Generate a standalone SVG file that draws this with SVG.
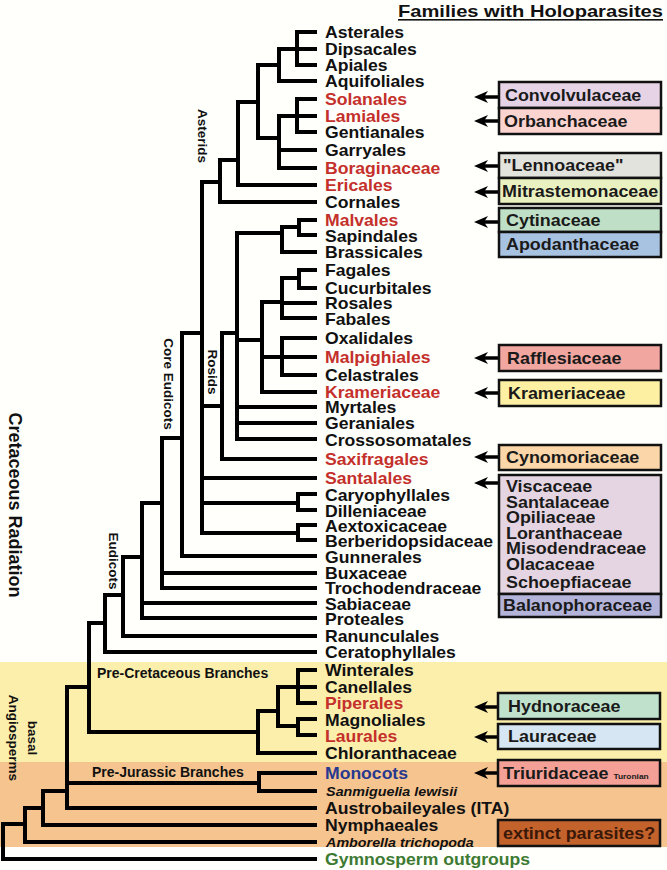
<svg xmlns="http://www.w3.org/2000/svg" width="667" height="870" viewBox="0 0 667 870">
<style>
text{font-family:"Liberation Sans",Arial,sans-serif;font-weight:bold;fill:#111}
.lf{font-size:16px}
.r{fill:#c4302b}
.it{font-style:italic;font-size:13px}
.bx{font-size:16px;fill:#1a1a1a}
.lab{font-size:13.5px}
.box{stroke:#111;stroke-width:2.5}
.tree{fill:none;stroke:#000;stroke-width:4;stroke-linecap:square}
.arw{stroke:#000;stroke-width:3.5}
</style>
<defs>
<marker id="ah" viewBox="0 0 14 12" refX="8" refY="6" markerWidth="14" markerHeight="12" markerUnits="userSpaceOnUse" orient="auto">
<path d="M0,0 L14,6 L0,12 L4,6 z" fill="#000"/>
</marker>
</defs>
<rect x="0" y="0" width="667" height="870" fill="#fffffb"/>
<rect x="0" y="662" width="667" height="100" fill="#fcefac"/>
<rect x="0" y="762" width="667" height="85" fill="#f6c48e"/>

<g id="title">
<text x="663" y="17" text-anchor="end" font-size="17" textLength="265" lengthAdjust="spacingAndGlyphs">Families with Holoparasites</text>
<rect x="398" y="19" width="265" height="1.6" fill="#111"/>
</g>

<g id="connectors">
<path class="tree" d="M297,32 V65 M297,32 H315 M297,49 H315 M297,65 H315
M279,49 V81 M279,49 H297 M279,81 H315
M297,99 V132 M297,99 H315 M297,116 H315 M297,132 H315
M279,116 V168 M279,116 H297 M279,150 H315 M279,168 H315
M258,65 V138 M258,65 H279 M258,138 H279
M238,102 V185 M238,102 H258 M238,185 H315
M220,160 V202 M220,160 H238 M220,202 H315
M202,182 V533 M202,182 H220
M299,220 V235 M299,220 H315 M299,235 H315
M282,227 V252 M282,227 H299 M282,252 H315
M299,270 V288 M299,270 H315 M299,288 H315
M282,278 V318 M282,278 H299 M282,303 H315 M282,318 H315
M282,338 V375 M282,338 H315 M282,357 H315 M282,375 H315
M262,302 V392 M262,302 H282 M262,357 H282 M262,392 H315
M237,233 V439 M237,233 H282 M237,340 H262 M237,407 H315 M237,423 H315 M237,439 H315
M222,333 V459 M222,333 H237 M222,459 H315
M202,406 H222
M202,478 H315
M202,503 H298 M298,494 V510 M298,494 H315 M298,510 H315
M202,533 H298 M298,525 V540 M298,525 H315 M298,540 H315
M182,333 V556 M182,333 H202 M182,556 H315
M162,438 V588 M162,438 H182 M162,573 H315 M162,588 H315
M142,503 V618 M142,503 H162 M142,603 H315 M142,618 H315
M123,557 V636 M123,557 H142 M123,636 H315
M105,595 V652 M105,595 H123 M105,652 H315
M89,623 V732 M89,623 H105 M89,732 H258
M298,670 V703 M298,670 H315 M298,703 H315 M278,687 H315
M298,719 V735 M298,719 H315 M298,735 H315
M278,687 V726 M278,726 H298
M258,711 V753 M258,711 H278 M258,753 H315
M259,773 V791 M259,773 H315 M259,791 H315
M67,687 V808 M67,687 H89 M67,783 H259 M67,808 H315
M43,791 V825 M43,791 H67 M43,825 H315
M25,808 V842 M25,808 H43 M25,842 H315
M3,824 V859 M3,824 H25 M3,859 H315"/>
<g class="arw" marker-end="url(#ah)">
<line x1="498" y1="97" x2="480" y2="97"/>
<line x1="498" y1="121" x2="480" y2="121"/>
<line x1="498" y1="166" x2="480" y2="166"/>
<line x1="498" y1="192" x2="480" y2="192"/>
<line x1="498" y1="222" x2="480" y2="222"/>
<line x1="498" y1="358" x2="480" y2="358"/>
<line x1="498" y1="393" x2="480" y2="393"/>
<line x1="498" y1="457" x2="480" y2="457"/>
<line x1="498" y1="483" x2="480" y2="483"/>
<line x1="498" y1="707" x2="480" y2="707"/>
<line x1="498" y1="737" x2="480" y2="737"/>
<line x1="498" y1="773" x2="480" y2="773"/>
</g>
</g>

<g id="clade-labels" class="lab">
<text transform="translate(202,136) rotate(90)" text-anchor="middle" dominant-baseline="central">Asterids</text>
<text transform="translate(212,372) rotate(90)" text-anchor="middle" dominant-baseline="central">Rosids</text>
<text transform="translate(168,384) rotate(90)" text-anchor="middle" dominant-baseline="central">Core Eudicots</text>
<text transform="translate(113,561) rotate(90)" text-anchor="middle" dominant-baseline="central">Eudicots</text>
<text transform="translate(15,505) rotate(90)" text-anchor="middle" dominant-baseline="central" font-size="18">Cretaceous Radiation</text>
<text transform="translate(32,738) rotate(90)" text-anchor="middle" dominant-baseline="central">basal</text>
<text transform="translate(13,738) rotate(90)" text-anchor="middle" dominant-baseline="central">Angiosperms</text>
<text x="97" y="678" font-size="14">Pre-Cretaceous Branches</text>
<text x="92" y="777" font-size="14">Pre-Jurassic Branches</text>
</g>

<g id="leaves" class="lf" transform="translate(325,0) scale(1.1,1)">
<g id="n-asterales"><text x="0" y="38">Asterales</text></g>
<g id="n-dipsacales"><text x="0" y="55">Dipsacales</text></g>
<g id="n-apiales"><text x="0" y="71">Apiales</text></g>
<g id="n-aquifoliales"><text x="0" y="87">Aquifoliales</text></g>
<g id="n-solanales"><text class="r" x="0" y="105">Solanales</text></g>
<g id="n-lamiales"><text class="r" x="0" y="122">Lamiales</text></g>
<g id="n-gentianales"><text x="0" y="138">Gentianales</text></g>
<g id="n-garryales"><text x="0" y="156">Garryales</text></g>
<g id="n-boraginaceae"><text class="r" x="0" y="174">Boraginaceae</text></g>
<g id="n-ericales"><text class="r" x="0" y="191">Ericales</text></g>
<g id="n-cornales"><text x="0" y="208">Cornales</text></g>
<g id="n-malvales"><text class="r" x="0" y="226">Malvales</text></g>
<g id="n-sapindales"><text x="0" y="242">Sapindales</text></g>
<g id="n-brassicales"><text x="0" y="258">Brassicales</text></g>
<g id="n-fagales"><text x="0" y="276">Fagales</text></g>
<g id="n-cucurbitales"><text x="0" y="294">Cucurbitales</text></g>
<g id="n-rosales"><text x="0" y="309">Rosales</text></g>
<g id="n-fabales"><text x="0" y="325">Fabales</text></g>
<g id="n-oxalidales"><text x="0" y="344">Oxalidales</text></g>
<g id="n-malpighiales"><text class="r" x="0" y="363">Malpighiales</text></g>
<g id="n-celastrales"><text x="0" y="381">Celastrales</text></g>
<g id="n-krameriaceae"><text class="r" x="0" y="398">Krameriaceae</text></g>
<g id="n-myrtales"><text x="0" y="413">Myrtales</text></g>
<g id="n-geraniales"><text x="0" y="429">Geraniales</text></g>
<g id="n-crossosomatales"><text x="0" y="446">Crossosomatales</text></g>
<g id="n-saxifragales"><text class="r" x="0" y="465">Saxifragales</text></g>
<g id="n-santalales"><text class="r" x="0" y="484">Santalales</text></g>
<g id="n-caryophyllales"><text x="0" y="501">Caryophyllales</text></g>
<g id="n-dilleniaceae"><text x="0" y="517">Dilleniaceae</text></g>
<g id="n-aextoxicaceae"><text x="0" y="532">Aextoxicaceae</text></g>
<g id="n-berberidopsidaceae"><text x="0" y="547">Berberidopsidaceae</text></g>
<g id="n-gunnerales"><text x="0" y="563">Gunnerales</text></g>
<g id="n-buxaceae"><text x="0" y="579">Buxaceae</text></g>
<g id="n-trochodendraceae"><text x="0" y="594">Trochodendraceae</text></g>
<g id="n-sabiaceae"><text x="0" y="610">Sabiaceae</text></g>
<g id="n-proteales"><text x="0" y="625">Proteales</text></g>
<g id="n-ranunculales"><text x="0" y="642">Ranunculales</text></g>
<g id="n-ceratophyllales"><text x="0" y="658">Ceratophyllales</text></g>
<g id="n-winterales"><text x="0" y="676">Winterales</text></g>
<g id="n-canellales"><text x="0" y="693">Canellales</text></g>
<g id="n-piperales"><text class="r" x="0" y="709">Piperales</text></g>
<g id="n-magnoliales"><text x="0" y="726">Magnoliales</text></g>
<g id="n-laurales"><text class="r" x="0" y="742">Laurales</text></g>
<g id="n-chloranthaceae"><text x="0" y="759">Chloranthaceae</text></g>
<g id="n-monocots"><text x="0" y="779" style="fill:#27398f">Monocots</text></g>
<g id="n-sanmiguelia"><text class="it" x="1" y="796">Sanmiguelia lewisii</text></g>
<g id="n-austrobaileyales"><text x="0" y="814">Austrobaileyales (ITA)</text></g>
<g id="n-nymphaeales"><text x="0" y="831">Nymphaeales</text></g>
<g id="n-amborella"><text class="it" x="1" y="847">Amborella trichopoda</text></g>
<g id="n-gymnosperms"><text x="0" y="865" style="fill:#3d7a32">Gymnosperm outgroups</text></g>
</g>

<g id="families">
<g id="b-convolvulaceae"><rect class="box" x="499" y="82" width="162" height="26" fill="#e6d3e6"/><text class="bx" transform="translate(505,101) scale(1.12,1)">Convolvulaceae</text></g>
<g id="b-orbanchaceae"><rect class="box" x="499" y="108" width="162" height="26" fill="#fbd3cf"/><text class="bx" transform="translate(504,127) scale(1.12,1)">Orbanchaceae</text></g>
<g id="b-lennoaceae"><rect class="box" x="499" y="153" width="162" height="25" fill="#e3e3de"/><text class="bx" transform="translate(503,171) scale(1.12,1)">"Lennoaceae"</text></g>
<g id="b-mitrastemonaceae"><rect class="box" x="499" y="178" width="162" height="26" fill="#eaf1c0"/><text class="bx" transform="translate(502,197) scale(1.12,1)">Mitrastemonaceae</text></g>
<g id="b-cytinaceae"><rect class="box" x="499" y="208" width="162" height="24" fill="#bfe0c6"/><text class="bx" transform="translate(506,226) scale(1.12,1)">Cytinaceae</text></g>
<g id="b-apodanthaceae"><rect class="box" x="499" y="232" width="162" height="25" fill="#a8c2e2"/><text class="bx" transform="translate(506,250) scale(1.12,1)">Apodanthaceae</text></g>
<g id="b-rafflesiaceae"><rect class="box" x="499" y="345" width="162" height="26" fill="#f2a6a0"/><text class="bx" transform="translate(507,364) scale(1.12,1)">Rafflesiaceae</text></g>
<g id="b-krameriaceae"><rect class="box" x="499" y="380" width="162" height="26" fill="#fdf0a2"/><text class="bx" transform="translate(508,399) scale(1.12,1)">Krameriaceae</text></g>
<g id="b-cynomoriaceae"><rect class="box" x="499" y="445" width="162" height="25" fill="#fad6a8"/><text class="bx" transform="translate(506,463) scale(1.12,1)">Cynomoriaceae</text></g>
<g id="b-santalales"><rect class="box" x="499" y="475" width="162" height="119" fill="#e5d5e3"/>
<g transform="translate(506,0) scale(1.12,1)">
<text class="bx" x="0" y="492">Viscaceae</text>
<text class="bx" x="0" y="508">Santalaceae</text>
<text class="bx" x="0" y="523">Opiliaceae</text>
<text class="bx" x="0" y="539">Loranthaceae</text>
<text class="bx" x="0" y="554">Misodendraceae</text>
<text class="bx" x="0" y="570">Olacaceae</text>
<text class="bx" x="0" y="588">Schoepfiaceae</text>
</g></g>
<g id="b-balanophoraceae"><rect class="box" x="499" y="594" width="162" height="23" fill="#b4b4da"/><text class="bx" transform="translate(503,611) scale(1.12,1)">Balanophoraceae</text></g>
<g id="b-hydnoraceae"><rect class="box" x="498" y="693" width="162" height="26" fill="#c0e2cc"/><text class="bx" transform="translate(508,712) scale(1.12,1)">Hydnoraceae</text></g>
<g id="b-lauraceae"><rect class="box" x="498" y="724" width="162" height="25" fill="#d6e6f2"/><text class="bx" transform="translate(508,742) scale(1.12,1)">Lauraceae</text></g>
<g id="b-triuridaceae"><rect class="box" x="498" y="760" width="162" height="26" fill="#f4a096"/><text class="bx" transform="translate(503,779) scale(1.12,1)">Triuridaceae <tspan font-size="7.5">Turonian</tspan></text></g>
<g id="b-extinct"><rect class="box" x="498" y="820" width="162" height="26" fill="#c4622c"/><text class="bx" transform="translate(503,839) scale(1.12,1)" style="fill:#3a1808">extinct parasites?</text></g>
</g>
</svg>
